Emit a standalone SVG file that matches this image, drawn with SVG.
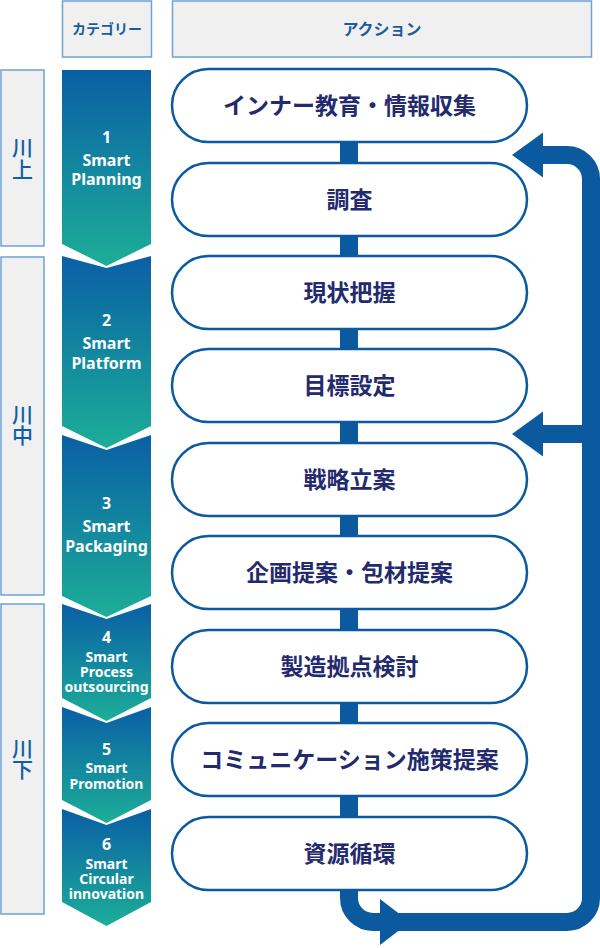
<svg xmlns="http://www.w3.org/2000/svg" width="600" height="948" viewBox="0 0 600 948">
<style>
.hdr{fill:#f0f0f0;stroke:#6ea3d6;stroke-width:1.5}
.hdrt{font-family:"Noto Sans CJK JP","Noto Sans",sans-serif;font-weight:700;fill:#1b5d9c;text-anchor:middle}
.side{fill:#f0f0f0;stroke:#6ea3d6;stroke-width:1.5}
.sidet{font-family:"Noto Sans CJK JP","Noto Sans",sans-serif;font-weight:500;font-size:21px;fill:#125ea6;text-anchor:middle;writing-mode:vertical-rl;letter-spacing:0.5px}
.chev{fill:url(#cg)}
.ct{font-family:"Noto Sans","Open Sans",sans-serif;font-weight:700;fill:#ffffff;text-anchor:middle}
.c16{font-size:16px}
.c14{font-size:14px}
.pill{fill:#ffffff;stroke:#0b5a9f;stroke-width:2.5}
.pt{font-family:"Noto Sans CJK JP","Noto Sans",sans-serif;font-weight:700;font-size:23px;fill:#232a6e;text-anchor:middle}
.bar{fill:none;stroke:#0b5aa0;stroke-width:18}
.ah{fill:#0b5aa0}
</style>
<defs>
<linearGradient id="cg" x1="0" y1="0" x2="0" y2="1">
<stop offset="0" stop-color="#0a5fa5"/>
<stop offset="1" stop-color="#1cae98"/>
</linearGradient>
</defs>

<g id="header-category"><rect class="hdr" x="62.5" y="1" width="89" height="56"/><text class="hdrt" x="107" y="34" font-size="14">カテゴリー</text></g>
<g id="header-action"><rect class="hdr" x="172.5" y="1" width="419" height="56"/><text class="hdrt" x="382" y="35" font-size="16">アクション</text></g>

<g id="stage-upstream"><rect class="side" x="1" y="70" width="43" height="176"/><text class="sidet" x="22.5" y="158.5">川上</text></g>
<g id="stage-midstream"><rect class="side" x="1" y="257" width="43" height="338"/><text class="sidet" x="22.5" y="425">川中</text></g>
<g id="stage-downstream"><rect class="side" x="1" y="604" width="43" height="310"/><text class="sidet" x="22.5" y="759">川下</text></g>

<g id="cat1"><path class="chev" d="M62,70 H151 V244 L106.5,266 L62,244 Z"/>
<text class="ct c16"><tspan x="106.5" y="143">1</tspan><tspan x="106.5" y="165.5">Smart</tspan><tspan x="106.5" y="185">Planning</tspan></text></g>
<g id="cat2"><path class="chev" d="M62,256 L106.5,268 L151,256 V426 L106.5,448 L62,426 Z"/>
<text class="ct c16"><tspan x="106.5" y="326">2</tspan><tspan x="106.5" y="349">Smart</tspan><tspan x="106.5" y="369">Platform</tspan></text></g>
<g id="cat3"><path class="chev" d="M62,435 L106.5,450 L151,435 V596 L106.5,617 L62,596 Z"/>
<text class="ct c16"><tspan x="106.5" y="509">3</tspan><tspan x="106.5" y="532">Smart</tspan><tspan x="106.5" y="552">Packaging</tspan></text></g>
<g id="cat4"><path class="chev" d="M62,604 L106.5,619 L151,604 V698 L106.5,721 L62,698 Z"/>
<text class="ct c14"><tspan x="106.5" y="643" font-size="16">4</tspan><tspan x="106.5" y="662">Smart</tspan><tspan x="106.5" y="677">Process</tspan><tspan x="106.5" y="692">outsourcing</tspan></text></g>
<g id="cat5"><path class="chev" d="M62,707 L106.5,723 L151,707 V800 L106.5,823 L62,800 Z"/>
<text class="ct c14"><tspan x="106.5" y="755" font-size="16">5</tspan><tspan x="106.5" y="773">Smart</tspan><tspan x="106.5" y="789">Promotion</tspan></text></g>
<g id="cat6"><path class="chev" d="M62,809 L106.5,825 L151,809 V902 L106.5,926 L62,902 Z"/>
<text class="ct c14"><tspan x="106.5" y="850" font-size="16">6</tspan><tspan x="106.5" y="869">Smart</tspan><tspan x="106.5" y="884">Circular</tspan><tspan x="106.5" y="899">innovation</tspan></text></g>

<g id="connectors">
<path class="bar" d="M349,120 V898 A24,24 0 0 0 373,922 H567 A24,24 0 0 0 591,898 V179 A24,24 0 0 0 567,155 H538"/>
<path class="bar" d="M591,434 H538"/>
<polygon class="ah" points="543,132.5 512,155 543,177.5"/>
<polygon class="ah" points="543,411.5 512,434 543,456.5"/>
<polygon class="ah" points="380,899 410,922 380,945"/>
</g>

<g id="act1"><rect class="pill" x="172" y="69" width="355" height="73" rx="36.5"/><text class="pt" x="349.5" y="113.5">インナー教育・情報収集</text></g>
<g id="act2"><rect class="pill" x="172" y="163" width="355" height="73" rx="36.5"/><text class="pt" x="349.5" y="207.5">調査</text></g>
<g id="act3"><rect class="pill" x="172" y="256" width="355" height="73" rx="36.5"/><text class="pt" x="349.5" y="300.5">現状把握</text></g>
<g id="act4"><rect class="pill" x="172" y="349" width="355" height="73" rx="36.5"/><text class="pt" x="349.5" y="393.5">目標設定</text></g>
<g id="act5"><rect class="pill" x="172" y="443" width="355" height="73" rx="36.5"/><text class="pt" x="349.5" y="487.5">戦略立案</text></g>
<g id="act6"><rect class="pill" x="172" y="536" width="355" height="73" rx="36.5"/><text class="pt" x="349.5" y="580.5">企画提案・包材提案</text></g>
<g id="act7"><rect class="pill" x="172" y="630" width="355" height="73" rx="36.5"/><text class="pt" x="349.5" y="674.5">製造拠点検討</text></g>
<g id="act8"><rect class="pill" x="172" y="723" width="355" height="73" rx="36.5"/><text class="pt" x="349.5" y="767.5">コミュニケーション施策提案</text></g>
<g id="act9"><rect class="pill" x="172" y="817" width="355" height="73" rx="36.5"/><text class="pt" x="349.5" y="861.5">資源循環</text></g>
</svg>
